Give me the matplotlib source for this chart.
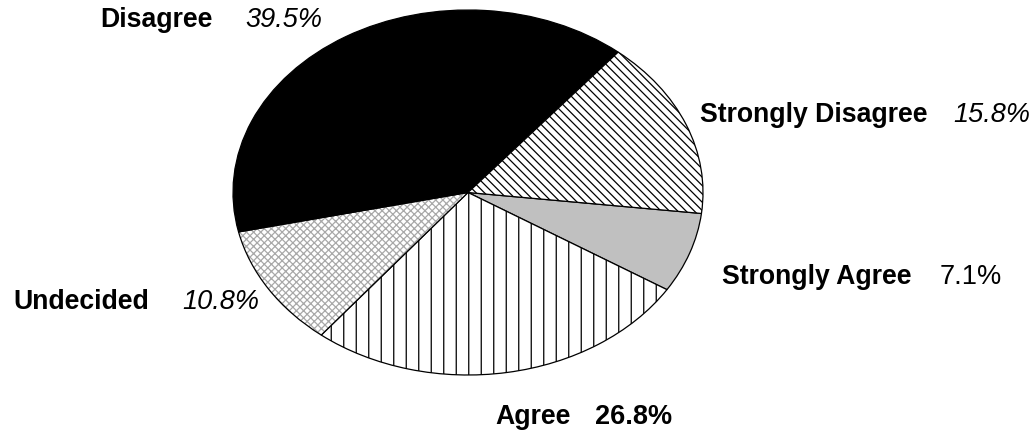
import matplotlib.pyplot as plt
from matplotlib.patches import Wedge

labels = ['Strongly Agree', 'Agree', 'Undecided', 'Disagree', 'Strongly Disagree']
values = [7.1, 26.8, 10.8, 39.5, 15.8]
pct_text = ['7.1%', '26.8%', '10.8%', '39.5%', '15.8%']

colors = ['#c0c0c0', 'white', 'white', 'black', 'white']
hatches = [None, '||', 'x' * 7, None, '\\' * 6]

W, H, DPI = 1034, 434, 150
plt.rcParams['font.family'] = ['Liberation Sans', 'DejaVu Sans']
plt.rcParams['hatch.linewidth'] = 0.6

fig = plt.figure(figsize=(W / DPI, H / DPI), dpi=DPI)
# pie is drawn as an ellipse, so the axes box is the ellipse's bounding box
ax = fig.add_axes([233 / W, 1 - 375 / H, 470 / W, 365 / H])

wedges, _ = ax.pie(values, colors=colors, startangle=-6.6, counterclock=False,
                   wedgeprops=dict(edgecolor='black', linewidth=0.6))
for w, h in zip(wedges, hatches):
    if h:
        w.set_hatch(h)

# lighter cross hatch for Undecided, with a black outline drawn on top
und = wedges[2]
und.set_edgecolor('#a8a8a8')
und.set_linewidth(0)
ax.add_patch(Wedge(und.center, und.r, und.theta1, und.theta2, fill=False,
                   edgecolor='black', linewidth=0.6))

ax.set_aspect('auto')
ax.set_xlim(-1, 1)
ax.set_ylim(-1, 1)
ax.axis('off')

# label positions (left x, center y, pct left x) in pixels
lab_pos = {
    'Strongly Agree': (722, 277, 940, False, 'normal'),
    'Agree': (495, 417, 595, False, 'bold'),
    'Undecided': (13, 302, 182, True, 'normal'),
    'Disagree': (100, 20, 245, True, 'normal'),
    'Strongly Disagree': (700, 115, 953, True, 'normal'),
}
for lab, pct in zip(labels, pct_text):
    x, y, px, ital, wt = lab_pos[lab]
    fig.text(x / W, 1 - y / H, lab, fontsize=12.8, fontweight='bold',
             ha='left', va='center')
    fig.text(px / W, 1 - y / H, pct, fontsize=13, fontweight=wt,
             fontstyle='italic' if ital else 'normal', ha='left', va='center')

fig.savefig('out.png', dpi=DPI)
